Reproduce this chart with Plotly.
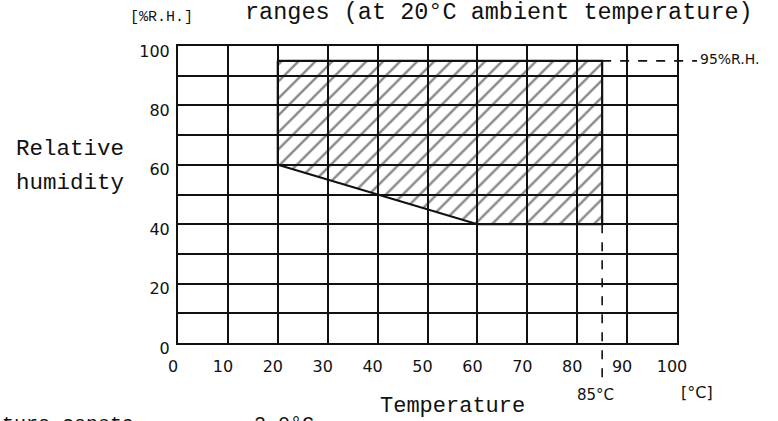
import plotly.graph_objects as go

# ---- data ----
region_temp = [20, 85, 85, 60, 20, 20]      # °C
region_rh = [95, 95, 40, 40, 60, 95]        # %R.H.
x_ticks = [0, 10, 20, 30, 40, 50, 60, 70, 80, 90, 100]
x_tick_labels = ["0", "10", "20", "30", "40", "50", "60", "70", "80", "90", "100"]
y_ticks = [0, 10, 20, 30, 40, 50, 60, 70, 80, 90, 100]
y_tick_labels = ["0", "", "20", "", "40", "", "60", "", "80", "", "100"]
max_temp = 85
max_rh = 95

W, H = 778, 421
L, R, T, B = 178, 677, 46, 343   # plot area in page pixels

def px_x(px):
    return (px - L) / (R - L)

def px_y(py):
    return (B - py) / (B - T)

mono = "Liberation Mono"
sans = "DejaVu Sans"
ink = "#111111"

fig = go.Figure()
fig.add_trace(go.Scatter(
    x=region_temp, y=region_rh, mode="lines",
    fill="toself", fillcolor="rgba(0,0,0,0)",
    fillpattern=dict(shape="/", size=12, solidity=0.2, fgcolor=ink,
                     bgcolor="rgba(0,0,0,0)"),
    line=dict(color=ink, width=2.2), hoverinfo="skip", showlegend=False,
))

shapes = [
    # 95 %R.H. dashed extension
    dict(type="line", xref="paper", yref="y", x0=max_temp / 100, x1=px_x(697),
         y0=max_rh, y1=max_rh, line=dict(color=ink, width=1.6, dash="dash")),
    # 85 °C dashed drop
    dict(type="line", xref="x", yref="paper", x0=max_temp, x1=max_temp,
         y0=0.40, y1=px_y(383), line=dict(color=ink, width=1.6, dash="dash")),
]

ann = []
def add(text, px, py, size, family, xanchor="center", yanchor="middle"):
    ann.append(dict(text=text, x=px_x(px), y=px_y(py), xref="paper", yref="paper",
                    showarrow=False, xanchor=xanchor, yanchor=yanchor,
                    font=dict(family=family, size=size, color=ink)))

add("ranges (at 20°C ambient temperature)", 499, 12, 23.5, mono)
add("[%R.H.]", 161, 18, 15, mono)
add("Relative", 14, 149, 22.5, mono, xanchor="left")
add("humidity", 14, 183, 22.5, mono, xanchor="left")
add("95%R.H.", 698, 59, 14, sans, xanchor="left")
add("85°C", 595, 395, 15, sans)
add("[°C]", 697, 392, 16, sans)
add("Temperature", 452, 406, 22, mono)
add("ture consta", 0, 411, 20, mono, xanchor="left", yanchor="top")
add("2 0°C", 252, 411, 20, mono, xanchor="left", yanchor="top")

tickfont = dict(family=sans, size=16, color=ink)
fig.update_layout(
    width=W, height=H,
    margin=dict(l=L, r=W - R, t=T, b=H - B, pad=0),
    paper_bgcolor="white", plot_bgcolor="white",
    shapes=shapes, annotations=ann, showlegend=False,
    xaxis=dict(range=[0, 100], tickvals=x_ticks, ticktext=x_tick_labels,
               showgrid=True, gridcolor=ink, gridwidth=1.5, zeroline=False,
               showline=True, linecolor=ink, linewidth=2, mirror=True,
               ticks="", ticklabelstandoff=8, ticklabelshift=-5,
               tickfont=tickfont, fixedrange=True),
    yaxis=dict(range=[0, 100], tickvals=y_ticks, ticktext=y_tick_labels,
               showgrid=True, gridcolor=ink, gridwidth=1.5, zeroline=False,
               showline=True, linecolor=ink, linewidth=2, mirror=True,
               ticks="", ticklabelstandoff=3, ticklabelshift=5,
               tickfont=tickfont, fixedrange=True),
)

fig.write_html("out.html", config={"displayModeBar": False},
               post_script="document.body.style.margin='0';")
